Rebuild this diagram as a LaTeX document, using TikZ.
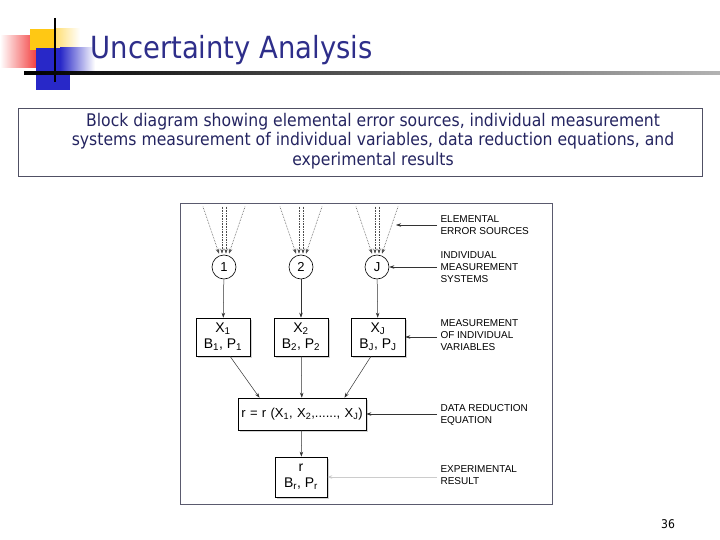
\documentclass[tikz,border=0pt]{standalone}
\usepackage{fontspec}
\setmainfont{Liberation Sans}
\newfontfamily\slidefont[FakeStretch=0.9]{DejaVu Sans}
\usetikzlibrary{arrows.meta, shadows, calc}

\definecolor{titleblue}{RGB}{46,46,138}
\definecolor{captionblue}{RGB}{36,36,96}
\definecolor{boxgray}{RGB}{80,80,100}
\definecolor{framegray}{RGB}{90,90,110}
\definecolor{logored}{RGB}{240,30,30}
\definecolor{logoyellow}{RGB}{255,200,20}
\definecolor{logoblue}{RGB}{40,40,200}

\tikzset{
    circ/.style={circle, draw, line width=0.6pt, fill=white, minimum size=24pt, inner sep=0pt, font=\fontsize{13}{13}\selectfont},
    meas/.style={draw, line width=0.6pt, fill=white, minimum width=54pt, minimum height=38pt, inner sep=1pt, align=center,
        font=\fontsize{14}{16}\selectfont, drop shadow={shadow xshift=2pt, shadow yshift=-2pt, opacity=0.35}},
    flow/.style={draw=black!80, line width=0.5pt, -{Stealth[length=5pt, width=3.5pt]}},
    srcarrow/.style={draw=black!70, densely dotted, line width=0.6pt, -{Stealth[length=5pt, width=3.5pt]}},
    lbl/.style={anchor=west, align=left, font=\fontsize{10}{12}\selectfont, text=black},
}

\begin{document}
\begin{tikzpicture}[x=1pt, y=-1pt]
    \useasboundingbox (0,0) rectangle (720,540);

    % Logo
    \shade[left color=white, right color=logored] (0,36) rectangle (43,68);
    \fill[logoyellow] (30,29) rectangle (55,50);
    \shade[left color=logoyellow!60, right color=white] (55,29) rectangle (80,50);
    \fill[logoblue] (36,48) rectangle (60,90);
    \shade[left color=logoblue, right color=white] (60,48) rectangle (95,72);
    \fill[logoblue] (36,72) rectangle (70,90);
    \draw[line width=2.5pt] (55,18) -- (55,82);
    \shade[left color=black, right color=black!30] (24,72) rectangle (720,74.5);

    % Title and caption
    \node[anchor=west, font=\slidefont\fontsize{30.5}{34}\selectfont, text=titleblue] (title) at (87,50) {Uncertainty Analysis};
    \node[draw=boxgray, minimum width=684pt, minimum height=68pt] (capbox) at (360,142) {};
    \node[align=center, font=\slidefont\fontsize{17.4}{19.5}\selectfont, text=captionblue] (caption) at (373,141)
        {Block diagram showing elemental error sources, individual measurement\\
         systems measurement of individual variables, data reduction equations, and\\
         experimental results};

    % Diagram frame
    \node[draw=framegray, minimum width=372pt, minimum height=301pt] (frame) at (366,353.5) {};

    % Draw nodes
    \node[circ] (c1) at (224,267) {1};
    \node[circ] (c2) at (301,267) {2};
    \node[circ] (cJ) at (377,267) {J};

    \node[meas] (m1) at (223,337) {X\textsubscript{1}\\B\textsubscript{1}, P\textsubscript{1}};
    \node[meas] (m2) at (301,337) {X\textsubscript{2}\\B\textsubscript{2}, P\textsubscript{2}};
    \node[meas] (mJ) at (378,337) {X\textsubscript{J}\\B\textsubscript{J}, P\textsubscript{J}};

    \node[meas, minimum width=128pt, minimum height=32pt, text width=124pt, font=\fontsize{13}{13}\selectfont] (eq) at (302,414)
        {r = r (X\textsubscript{1}, X\textsubscript{2},......, X\textsubscript{J})};
    \node[meas, minimum width=52pt, minimum height=40pt] (res) at (301,477) {r\\B\textsubscript{r}, P\textsubscript{r}};

    % Draw connections
    \foreach \c in {c1,c2,cJ} {
        \foreach \dx/\ex in {-21/-5, -2/-2, 2/2, 21/5}
            \draw[srcarrow] ($(\c.north)+(\dx,-48)$) -- ($(\c.north)+(\ex,-1)$);
    }
    \draw[flow] (c1) -- (m1);
    \draw[flow] (c2) -- (m2);
    \draw[flow] (cJ) -- (mJ);
    \draw[flow] (m1.290) -- (eq.159);
    \draw[flow] (m2) -- (eq);
    \draw[flow] (mJ.250) -- (eq.21);
    \draw[flow] (eq) -- (res);

    % Labels
    \node[lbl] (lsrc) at (437,225) {ELEMENTAL\\ERROR SOURCES};
    \node[lbl] (lsys) at (437,267) {INDIVIDUAL\\MEASUREMENT\\SYSTEMS};
    \node[lbl] (lvar) at (437,335) {MEASUREMENT\\OF INDIVIDUAL\\VARIABLES};
    \node[lbl] (leq) at (437,415) {DATA REDUCTION\\EQUATION};
    \node[lbl] (lres) at (437,475) {EXPERIMENTAL\\RESULT};

    \coordinate (tsrc) at (396,225);
    \draw[flow] (lsrc.west) -- (tsrc);
    \draw[flow] (lsys.west) -- (cJ.east);
    \draw[flow] (lvar.west |- mJ.east) -- (mJ.east);
    \draw[flow] (leq.west |- eq.east) -- (eq.east);
    \draw[flow, draw=black!20] (lres.west |- res.east) -- (res.east);

    % Page number
    \node[font=\slidefont\fontsize{12}{12}\selectfont] (page) at (668,524) {36};
\end{tikzpicture}
\end{document}
